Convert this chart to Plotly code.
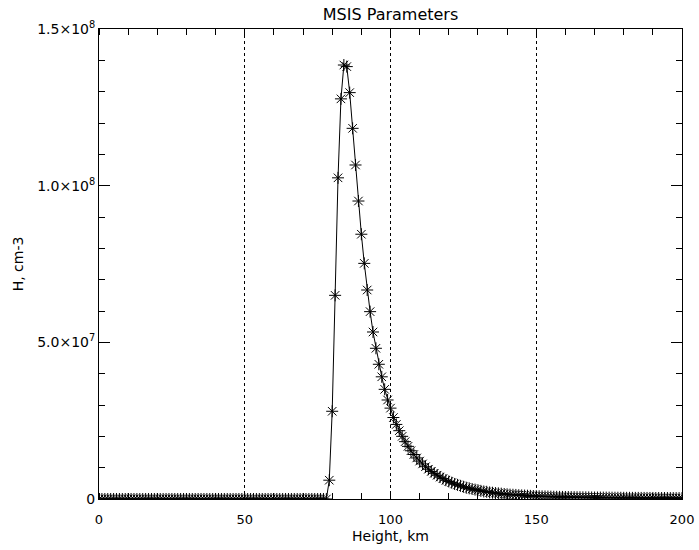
import plotly.graph_objects as go

# Heights (km), 1 km grid from 0 to 200
heights_km = list(range(0, 201))

# MSIS H density, in units of 1e6 cm^-3 (one per km)
h_density_1e6 = [
    # 0-78 km
    0, 0, 0, 0, 0, 0, 0, 0, 0, 0,
    0, 0, 0, 0, 0, 0, 0, 0, 0, 0,
    0, 0, 0, 0, 0, 0, 0, 0, 0, 0,
    0, 0, 0, 0, 0, 0, 0, 0, 0, 0,
    0, 0, 0, 0, 0, 0, 0, 0, 0, 0,
    0, 0, 0, 0, 0, 0, 0, 0, 0, 0,
    0, 0, 0, 0, 0, 0, 0, 0, 0, 0,
    0, 0, 0, 0, 0, 0, 0, 0, 0,
    # 79-99 km
    6.0, 28.0, 65.0, 102.5, 127.7, 138.5, 138.0, 129.7, 118.3, 106.6,
    95.1, 84.5, 75.2, 66.7, 59.8, 53.3, 48.1, 43.0, 39.0, 35.0, 31.6,
    # 100-150 km
    29.0, 26.0, 23.8, 21.8, 20.0, 18.3, 16.8, 15.4, 14.2, 13.1,
    12.1, 11.2, 10.3, 9.5, 8.8, 8.2, 7.6, 7.0, 6.5, 6.0,
    5.6, 5.2, 4.8, 4.5, 4.2, 3.9, 3.6, 3.4, 3.2, 3.0,
    2.8, 2.6, 2.4, 2.3, 2.1, 2.0, 1.9, 1.8, 1.7, 1.6,
    1.5, 1.4, 1.35, 1.3, 1.2, 1.15, 1.1, 1.05, 1.0, 0.95,
    0.9,
    # 151-200 km
    0.87, 0.84, 0.81, 0.78, 0.75, 0.72, 0.70, 0.68, 0.66, 0.64,
    0.62, 0.60, 0.58, 0.56, 0.55, 0.53, 0.52, 0.50, 0.49, 0.48,
    0.47, 0.46, 0.45, 0.44, 0.43, 0.42, 0.41, 0.40, 0.39, 0.38,
    0.375, 0.37, 0.36, 0.355, 0.35, 0.345, 0.34, 0.335, 0.33, 0.325,
    0.32, 0.315, 0.31, 0.305, 0.30, 0.295, 0.29, 0.285, 0.28, 0.275,
]

y_tick_vals = [0, 5.0e7, 1.0e8, 1.5e8]
y_tick_text = ["0", "5.0×10<sup>7</sup>", "1.0×10<sup>8</sup>", "1.5×10<sup>8</sup>"]
x_tick_vals = [0, 50, 100, 150, 200]

y_values = [v * 1e6 for v in h_density_1e6]

FONT = "DejaVu Sans"

fig = go.Figure()
fig.add_trace(go.Scatter(
    x=heights_km, y=y_values,
    mode="lines+markers",
    line=dict(color="black", width=1),
    marker=dict(symbol="asterisk-open", size=10,
                line=dict(color="black", width=1), color="black"),
    showlegend=False,
))

fig.update_layout(
    width=699, height=550,
    margin=dict(l=99, r=17, t=29, b=51),
    paper_bgcolor="white", plot_bgcolor="white",
    font=dict(family=FONT, size=13, color="black"),
    title=dict(text="MSIS Parameters", x=0.5587, xanchor="center",
               y=1 - 14 / 550, yanchor="middle", yref="container",
               font=dict(family=FONT, size=16, color="black")),
    xaxis=dict(
        range=[0, 200], tickvals=x_tick_vals, automargin=False,
        ticks="", showline=True, linecolor="black", linewidth=1,
        mirror="ticks",
        showgrid=True, gridcolor="black", gridwidth=1, griddash="dot",
        zeroline=False,
        minor=dict(ticks="inside", dtick=10, ticklen=6, tickcolor="black",
                   showgrid=False),
        ticklabelstandoff=8,
        title=dict(text="Height, km", standoff=5,
                   font=dict(family=FONT, size=14, color="black")),
        tickfont=dict(family=FONT, size=13, color="black"),
    ),
    yaxis=dict(
        range=[0, 1.5e8], tickvals=y_tick_vals, ticktext=y_tick_text,
        automargin=False,
        ticks="inside", ticklen=11, tickcolor="black",
        showline=True, linecolor="black", linewidth=1, mirror="ticks",
        showgrid=False, zeroline=False,
        minor=dict(ticks="inside", dtick=1e7, ticklen=6, tickcolor="black",
                   showgrid=False),
        title=dict(text="H, cm-3", standoff=10,
                   font=dict(family=FONT, size=14, color="black")),
        tickfont=dict(family=FONT, size=14, color="black"),
    ),
)

fig.write_html("out.html")
